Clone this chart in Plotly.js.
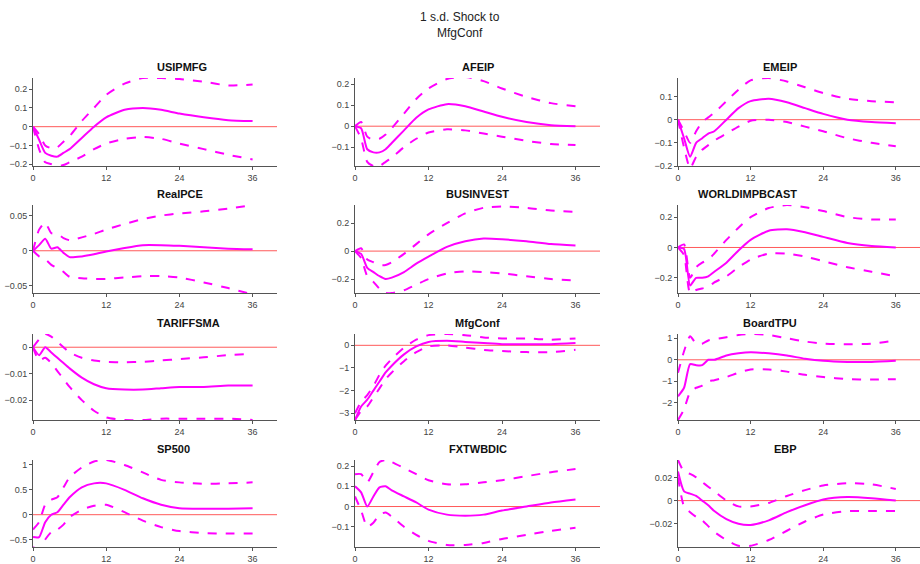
<!DOCTYPE html>
<html>
<head>
<meta charset="utf-8">
<script src="https://cdn.plot.ly/plotly-3.0.1.min.js"></script>
<style>body{margin:0;background:#fff}</style>
</head>
<body>
<div id="chart" style="width:920px;height:564px"></div>
<script>
const months = [0,1,2,3,4,5,6,8,10,12,15,18,21,24,28,32,36];

const names = ["USIPMFG","AFEIP","EMEIP","RealPCE","BUSINVEST","WORLDIMPBCAST",
               "TARIFFSMA","MfgConf","BoardTPU","SP500","FXTWBDIC","EBP"];

const usipmfgMid = [0,-0.07,-0.14,-0.155,-0.16,-0.14,-0.12,-0.06,0.0,0.05,0.09,0.1,0.09,0.07,0.05,0.035,0.03];
const usipmfgHi  = [0,-0.04,-0.1,-0.115,-0.11,-0.08,-0.05,0.03,0.1,0.17,0.23,0.26,0.26,0.255,0.24,0.22,0.225];
const usipmfgLo  = [0,-0.12,-0.19,-0.2,-0.21,-0.205,-0.19,-0.16,-0.12,-0.09,-0.065,-0.055,-0.065,-0.09,-0.12,-0.15,-0.175];

const afeipMid = [0,-0.01,-0.11,-0.125,-0.125,-0.11,-0.08,-0.02,0.04,0.08,0.105,0.095,0.07,0.045,0.02,0.005,0.0];
const afeipHi  = [0,0.02,-0.05,-0.065,-0.06,-0.04,-0.01,0.06,0.13,0.18,0.225,0.235,0.215,0.18,0.14,0.11,0.095];
const afeipLo  = [0,-0.06,-0.17,-0.19,-0.19,-0.17,-0.15,-0.1,-0.06,-0.03,-0.015,-0.02,-0.035,-0.05,-0.07,-0.085,-0.09];

const emeipMid = [0,-0.08,-0.16,-0.1,-0.08,-0.06,-0.05,0.0,0.05,0.08,0.09,0.075,0.05,0.025,0.0,-0.01,-0.015];
const emeipHi  = [0,-0.05,-0.1,-0.05,-0.01,0.01,0.03,0.08,0.13,0.17,0.18,0.165,0.14,0.115,0.09,0.08,0.075];
const emeipLo  = [0,-0.12,-0.21,-0.16,-0.13,-0.11,-0.09,-0.06,-0.03,-0.005,0.0,-0.01,-0.03,-0.05,-0.08,-0.1,-0.115];

const pceMid = [0,0.008,0.017,0.003,0.005,-0.003,-0.009,-0.008,-0.005,-0.001,0.004,0.008,0.008,0.007,0.005,0.003,0.002];
const pceHi  = [0,0.03,0.04,0.025,0.024,0.018,0.015,0.019,0.024,0.03,0.038,0.045,0.05,0.053,0.056,0.06,0.065];
const pceLo  = [0,-0.008,-0.012,-0.02,-0.025,-0.03,-0.037,-0.039,-0.04,-0.04,-0.038,-0.036,-0.036,-0.038,-0.045,-0.053,-0.062];

const businvMid = [0,-0.02,-0.12,-0.15,-0.18,-0.2,-0.19,-0.15,-0.09,-0.04,0.03,0.07,0.09,0.085,0.07,0.05,0.04];
const businvHi  = [0,0.02,-0.06,-0.08,-0.1,-0.1,-0.08,-0.02,0.05,0.12,0.2,0.27,0.31,0.32,0.31,0.29,0.28];
const businvLo  = [0,-0.05,-0.18,-0.22,-0.27,-0.3,-0.3,-0.28,-0.24,-0.2,-0.16,-0.145,-0.15,-0.16,-0.18,-0.2,-0.21];

const worldMid = [0,-0.01,-0.25,-0.2,-0.2,-0.19,-0.16,-0.1,-0.02,0.05,0.11,0.12,0.1,0.07,0.03,0.01,0.0];
const worldHi  = [0,0.02,-0.2,-0.13,-0.1,-0.08,-0.04,0.05,0.13,0.2,0.26,0.28,0.265,0.24,0.2,0.185,0.185];
const worldLo  = [0,-0.05,-0.3,-0.28,-0.27,-0.26,-0.23,-0.19,-0.13,-0.08,-0.04,-0.04,-0.06,-0.09,-0.13,-0.16,-0.19];

const tariffMid = [0,-0.003,0.0,-0.002,-0.004,-0.006,-0.008,-0.0115,-0.014,-0.0155,-0.016,-0.016,-0.0155,-0.015,-0.015,-0.0145,-0.0145];
const tariffHi  = [0,0.003,0.005,0.004,0.002,0.0,-0.002,-0.004,-0.005,-0.0055,-0.0057,-0.0055,-0.005,-0.0045,-0.0038,-0.003,-0.0025];
const tariffLo  = [0,-0.005,-0.004,-0.006,-0.009,-0.012,-0.015,-0.02,-0.024,-0.0265,-0.0275,-0.0275,-0.027,-0.027,-0.027,-0.027,-0.0275];

const mfgMid = [-3.3,-2.7,-2.4,-2.0,-1.6,-1.2,-0.9,-0.4,-0.05,0.15,0.2,0.15,0.1,0.05,0.05,0.05,0.1];
const mfgHi  = [-3.0,-2.5,-2.2,-1.8,-1.3,-0.9,-0.6,-0.1,0.25,0.45,0.5,0.45,0.35,0.3,0.3,0.25,0.3];
const mfgLo  = [-3.3,-2.9,-2.7,-2.3,-1.9,-1.5,-1.2,-0.7,-0.3,-0.05,0.0,-0.1,-0.2,-0.25,-0.3,-0.3,-0.2];

const tpuMid = [-1.7,-1.3,-0.2,-0.25,-0.25,0.0,0.0,0.2,0.3,0.35,0.3,0.2,0.05,-0.05,-0.1,-0.1,-0.05];
const tpuHi  = [-0.6,0.4,1.1,0.75,0.75,0.9,0.95,1.05,1.15,1.2,1.15,1.0,0.85,0.75,0.72,0.75,0.9];
const tpuLo  = [-2.8,-2.3,-1.5,-1.3,-1.2,-1.0,-0.95,-0.8,-0.6,-0.45,-0.45,-0.55,-0.7,-0.8,-0.9,-0.92,-0.9];

const spMid = [-0.45,-0.45,-0.15,0.0,0.05,0.2,0.35,0.55,0.63,0.63,0.5,0.33,0.2,0.13,0.12,0.12,0.13];
const spHi  = [-0.3,-0.15,0.2,0.3,0.35,0.55,0.75,0.95,1.07,1.1,1.0,0.85,0.7,0.65,0.62,0.63,0.65];
const spLo  = [-0.65,-0.7,-0.5,-0.35,-0.3,-0.2,-0.05,0.1,0.18,0.2,0.05,-0.12,-0.25,-0.33,-0.37,-0.38,-0.38];

const fxMid = [0.1,0.07,0.0,0.05,0.095,0.1,0.08,0.05,0.02,-0.015,-0.04,-0.045,-0.04,-0.02,0.0,0.02,0.035];
const fxHi  = [0.16,0.16,0.12,0.17,0.22,0.23,0.22,0.19,0.16,0.13,0.11,0.11,0.12,0.13,0.15,0.17,0.185];
const fxLo  = [0.05,-0.02,-0.1,-0.08,-0.04,-0.03,-0.05,-0.1,-0.14,-0.17,-0.19,-0.19,-0.18,-0.16,-0.14,-0.12,-0.105];

const ebpMid = [0.025,0.008,0.006,0.004,0.0,-0.004,-0.009,-0.016,-0.02,-0.021,-0.017,-0.01,-0.004,0.001,0.003,0.002,0.0];
const ebpHi  = [0.035,0.025,0.023,0.02,0.016,0.012,0.008,0.0,-0.005,-0.005,-0.002,0.004,0.009,0.013,0.015,0.014,0.01];
const ebpLo  = [0.02,-0.005,-0.01,-0.014,-0.017,-0.022,-0.027,-0.034,-0.039,-0.039,-0.034,-0.026,-0.018,-0.012,-0.009,-0.009,-0.009];

const mids = [usipmfgMid,afeipMid,emeipMid,pceMid,businvMid,worldMid,tariffMid,mfgMid,tpuMid,spMid,fxMid,ebpMid];
const his  = [usipmfgHi,afeipHi,emeipHi,pceHi,businvHi,worldHi,tariffHi,mfgHi,tpuHi,spHi,fxHi,ebpHi];
const los  = [usipmfgLo,afeipLo,emeipLo,pceLo,businvLo,worldLo,tariffLo,mfgLo,tpuLo,spLo,fxLo,ebpLo];

const yRanges = [[-0.21,0.26],[-0.19,0.23],[-0.2,0.18],[-0.06,0.065],[-0.3,0.33],[-0.3,0.28],
                 [-0.0275,0.005],[-3.3,0.5],[-2.8,1.2],[-0.65,1.1],[-0.2,0.23],[-0.04,0.035]];
const yTicks = [[-0.2,-0.1,0,0.1,0.2],[-0.1,0,0.1,0.2],[-0.2,-0.1,0,0.1],[-0.05,0,0.05],[-0.2,0,0.2],[-0.2,0,0.2],
                [-0.02,-0.01,0],[-3,-2,-1,0],[-2,-1,0,1],[-0.5,0,0.5,1],[-0.1,0,0.1,0.2],[-0.02,0,0.02]];

const W = 920, H = 564;
const colPx = [[33,277],[355,600],[678,920]];
const rowPx = [[78,166],[205,293],[334,420],[460,547]];

const magenta = "#ff00ff";
let traces = [];
let layout = {
    width: W, height: H,
    margin: {l:0, r:0, t:0, b:0},
    paper_bgcolor: "#fff",
    plot_bgcolor: "#fff",
    showlegend: false,
    font: {family: "Liberation Sans, Arial", color: "#444", size: 9},
    annotations: [{
        text: "1 s.d. Shock to<br>MfgConf", xref: "paper", yref: "paper",
        x: 0.5, y: 1 - 8/H, yanchor: "top", showarrow: false,
        font: {size: 12, color: "#222"}
    }],
    shapes: []
};

for (let i = 0; i < 12; i++) {
    const r = Math.floor(i / 3), c = i % 3;
    const n = i + 1;
    const xa = "x" + (n === 1 ? "" : n), ya = "y" + (n === 1 ? "" : n);
    const series = [[mids[i], "solid"], [his[i], "dash"], [los[i], "dash"]];
    for (const [vals, dash] of series) {
        traces.push({x: months, y: vals, xaxis: xa, yaxis: ya, mode: "lines", type: "scatter",
            line: {color: magenta, width: 2, dash: dash, shape: "spline", smoothing: 0.6},
            cliponaxis: true, hoverinfo: "skip"});
    }
    const axBase = {showgrid: false, zeroline: false, showline: true, linecolor: "#555", linewidth: 1,
        ticks: "outside", ticklen: 3, tickcolor: "#555", tickfont: {size: 9, color: "#444"}};
    layout["xaxis" + (n === 1 ? "" : n)] = Object.assign({}, axBase, {
        domain: [colPx[c][0]/W, colPx[c][1]/W], range: [0, 40],
        tickvals: [0,12,24,36], anchor: ya
    });
    layout["yaxis" + (n === 1 ? "" : n)] = Object.assign({}, axBase, {
        domain: [1 - rowPx[r][1]/H, 1 - rowPx[r][0]/H], range: yRanges[i],
        tickvals: yTicks[i], anchor: xa
    });
    layout.shapes.push({type: "line", xref: xa + " domain", yref: ya, x0: 0, x1: 1, y0: 0, y1: 0,
        line: {color: "#ff5a5a", width: 1}, layer: "below"});
    layout.annotations.push({text: "<b>" + names[i] + "</b>", xref: "paper", yref: "paper",
        x: (colPx[c][0] + colPx[c][1]) / 2 / W, y: 1 - (rowPx[r][0] - 3)/H, yanchor: "bottom",
        showarrow: false, font: {size: 11, color: "#111"}});
}

Plotly.newPlot("chart", traces, layout, {displayModeBar: false});
</script>
</body>
</html>
